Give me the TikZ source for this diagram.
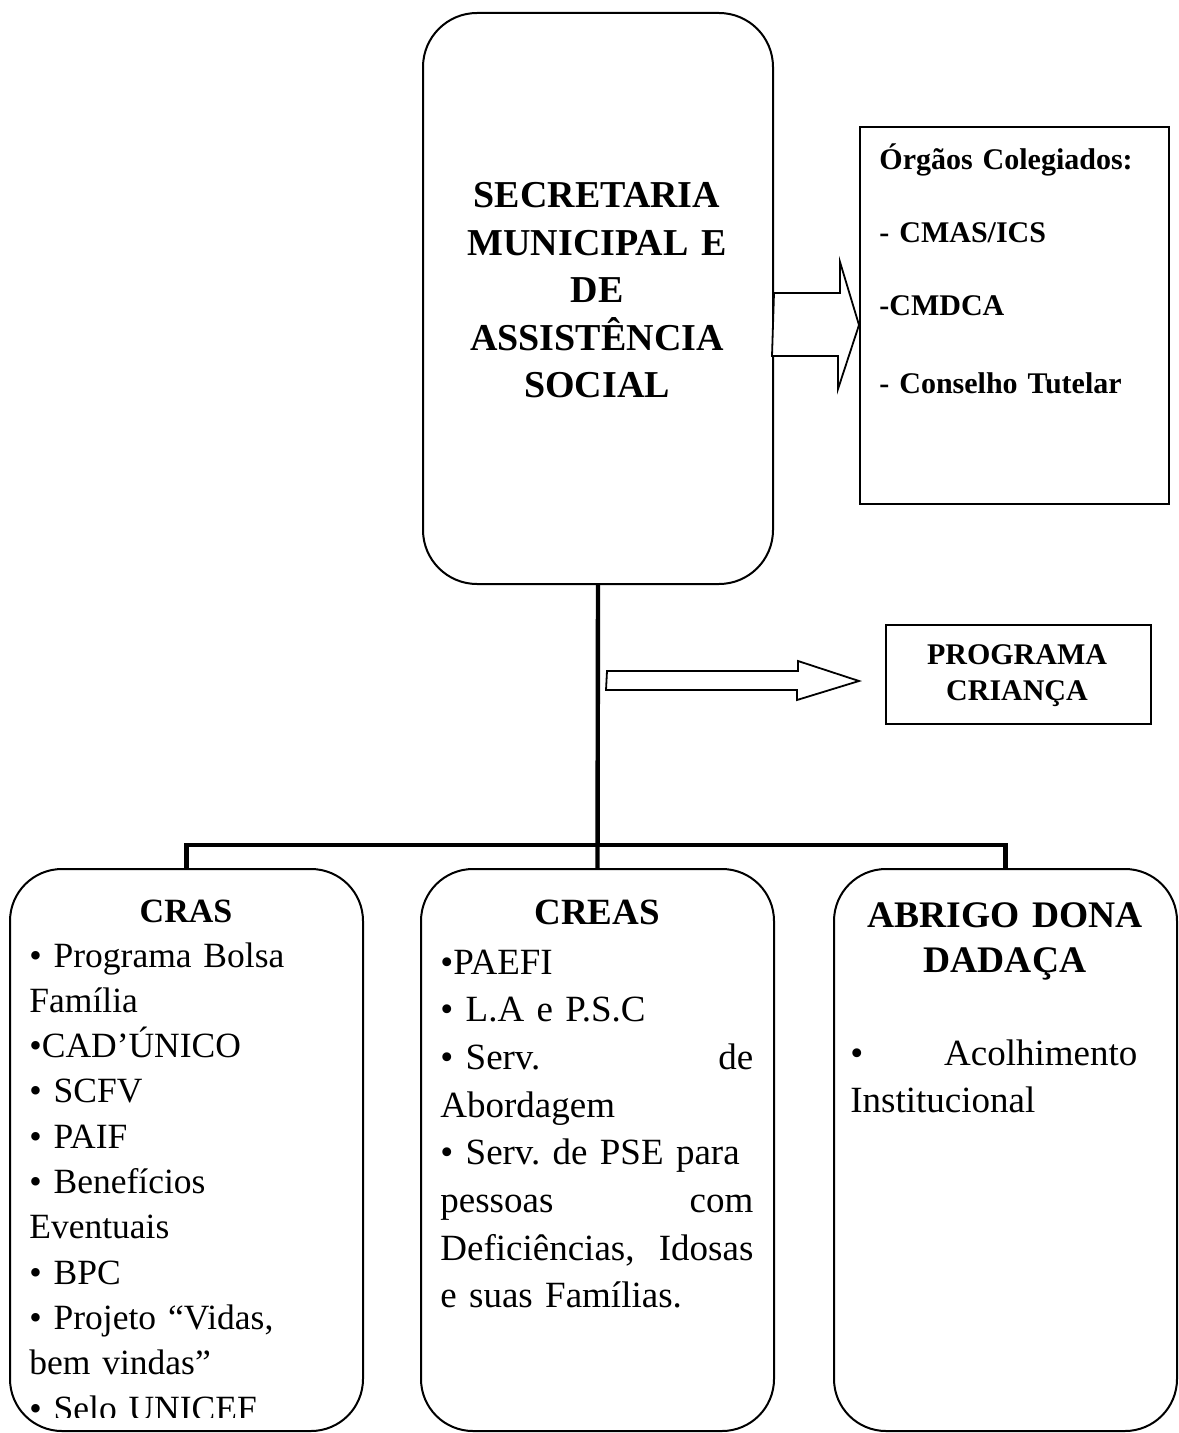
\documentclass[tikz,border=0pt]{standalone}
\usepackage{fontspec}
\setmainfont{Liberation Serif}
\usetikzlibrary{calc}
\newcommand\jline[1]{\leavevmode\hbox to\hsize{#1}}
\frenchspacing
\begin{document}
\begin{tikzpicture}[x=0.5pt,y=-0.5pt,
  rbox/.style={draw, line width=1pt, rounded corners=27pt, anchor=north west, inner sep=0pt},
  sbox/.style={draw, line width=0.9pt, anchor=north west, inner sep=0pt},
  tree/.style={line width=2.2pt},
  barrow/.style={draw, line width=0.9pt, fill=white, line join=miter},
  txt/.style={inner sep=0pt, anchor=base},
  txtl/.style={inner sep=0pt, anchor=base west, align=left},
]
\fill[white] (0,0) rectangle (1178,1433);
\useasboundingbox (0,0) rectangle (1178,1433);

% boxes
\node[rbox, minimum width=175pt, minimum height=285.5pt] (main) at (422,12) {};
\node[sbox, minimum width=154.5pt, minimum height=188.5pt] (org) at (859,126) {};
\node[sbox, minimum width=132.5pt, minimum height=49.5pt] (prog) at (885,624) {};
\node[rbox, rounded corners=26pt, minimum width=176.5pt, minimum height=281pt] (cras) at (9,868) {};
\node[rbox, rounded corners=26pt, minimum width=176.5pt, minimum height=281pt] (creas) at (420,868) {};
\node[rbox, rounded corners=26pt, minimum width=171.5pt, minimum height=281pt] (abrigo) at (833,868) {};

% tree connectors
\draw[tree] (main.south) -- (creas.north);
\draw[tree] (cras.north) -- ++(0,-23) -| (abrigo.north);

% block arrow to Orgaos
\coordinate (a1s) at ($(main.north east)+(0,313)$);
\coordinate (a1t) at (org.west |- a1s);
\draw[barrow] ($(a1s)+(0,-32)$) -- ++(66,0) -- ++(0,-31) -- (a1t) -- ++(-21,64) -- ++(0,-33) -- ++(-66,0) -- cycle;

% block arrow to Programa
\coordinate (a2s) at ($(main.south)+(9,96)$);
\coordinate (a2t) at ($(prog.west |- a2s)+(-26,0)$);
\draw[barrow] ($(a2s)+(0,-10)$) -- ++(191,0) -- ++(0,-10) -- (a2t) -- ++(-62,19) -- ++(0,-10) -- ++(-191,0) -- cycle;

% texts
\node[txt, text width=175pt, align=center, font=\fontsize{19}{23.75}\selectfont\bfseries] (mainT) at (597,208)
  {SECRETARIA\\MUNICIPAL E\\DE\\ASSISTÊNCIA\\SOCIAL};

\node[txtl, text width=150pt, font=\fontsize{15}{36}\selectfont\bfseries] (orgT) at (879,170)
  {Órgãos Colegiados:\\[0.5pt]- CMAS/ICS\\[0.5pt]-CMDCA\\[3pt]- Conselho Tutelar};

\node[txt, text width=132.5pt, align=center, font=\fontsize{15}{18}\selectfont\bfseries] (progT) at (1017,664)
  {PROGRAMA\\CRIANÇA};

\node[txt, font=\fontsize{17}{20}\selectfont\bfseries] (crasH) at (186,922) {CRAS};
\begin{scope}
  \clip (cras.north west) rectangle ($(cras.south east)+(0,-15)$);
  \node[txtl, text width=165pt, font=\fontsize{17.75}{22.65}\selectfont] (crasT) at (29,967)
    {• Programa Bolsa\\Família\\•CAD’ÚNICO\\• SCFV\\• PAIF\\• Benefícios\\Eventuais\\• BPC\\• Projeto “Vidas,\\bem vindas”\\• Selo UNICEF};
\end{scope}

\node[txt, font=\fontsize{18.5}{22}\selectfont\bfseries] (creasH) at (597,924) {CREAS};
\node[txtl, text width=156.5pt, font=\fontsize{18.5}{23.85}\selectfont] (creasT) at (440,974)
  {•PAEFI\\
   • L.A e P.S.C\\
   \jline{• Serv.\hfill de}\\
   Abordagem\\
   \jline{• Serv. de PSE para}\\
   \jline{pessoas\hfill com}\\
   \jline{Deficiências,\hfill Idosas}\\
   e suas Famílias.};

\node[txt, text width=171.5pt, align=center, font=\fontsize{18.75}{22.5}\selectfont\bfseries] (abrigoH) at (1005,927)
  {ABRIGO DONA\\DADAÇA};
\node[txtl, text width=143.5pt, font=\fontsize{18.5}{23.5}\selectfont] (abrigoT) at (850,1065)
  {\jline{•\hfill Acolhimento}\\Institucional};
\end{tikzpicture}
\end{document}
